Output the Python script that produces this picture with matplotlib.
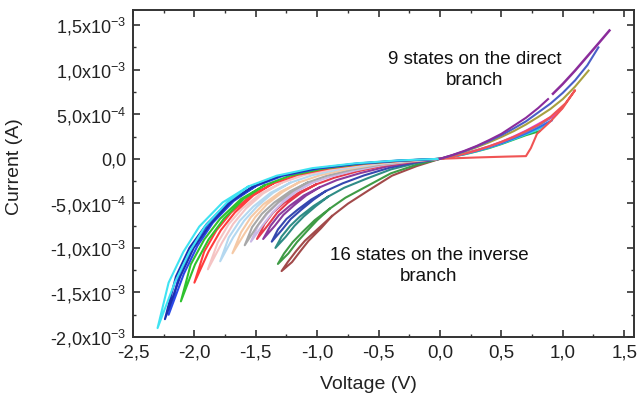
import numpy as np
import matplotlib
matplotlib.use("Agg")
import matplotlib.pyplot as plt

plt.rcParams['font.family'] = ['Liberation Sans', 'DejaVu Sans']
plt.rcParams['mathtext.fontset'] = 'custom'
plt.rcParams['mathtext.rm'] = 'Liberation Sans'
plt.rcParams['mathtext.it'] = 'Liberation Sans'
plt.rcParams['mathtext.bf'] = 'Liberation Sans'

# ---- inverse branch: one loop per state (V in volts, I in mA) ----
inv_colors = ['#3fe3f2', '#1c2fb0', '#2a48e6', '#2ec22e', '#ff3c3c', '#f5c4c4',
              '#b4d8f0', '#f5c9a6', '#a8a8a8', '#c9b9e6', '#e63a4c', '#8a3c9e',
              '#3548b0', '#2f8c86', '#3f9b45', '#a24a4a']
inv_out_v = [
    [0, -0.35, -0.69, -1.04, -1.33, -1.56, -1.77, -1.96, -2.09, -2.21, -2.30],
    [0, -0.34, -0.67, -1.01, -1.30, -1.52, -1.72, -1.90, -2.04, -2.15, -2.24],
    [0, -0.33, -0.66, -0.99, -1.28, -1.50, -1.70, -1.88, -2.01, -2.12, -2.21],
    [0, -0.32, -0.63, -0.95, -1.22, -1.43, -1.62, -1.79, -1.92, -2.03, -2.11],
    [0, -0.30, -0.60, -0.90, -1.16, -1.36, -1.54, -1.70, -1.82, -1.92, -2.00],
    [0, -0.28, -0.57, -0.85, -1.10, -1.29, -1.46, -1.61, -1.72, -1.81, -1.89],
    [0, -0.27, -0.54, -0.81, -1.04, -1.22, -1.38, -1.52, -1.63, -1.72, -1.79],
    [0, -0.25, -0.51, -0.76, -0.98, -1.15, -1.30, -1.44, -1.54, -1.62, -1.69],
    [0, -0.24, -0.48, -0.72, -0.92, -1.08, -1.22, -1.35, -1.45, -1.53, -1.59],
    [0, -0.23, -0.46, -0.69, -0.89, -1.05, -1.19, -1.31, -1.40, -1.48, -1.54],
    [0, -0.22, -0.45, -0.67, -0.86, -1.01, -1.15, -1.27, -1.36, -1.43, -1.49],
    [0, -0.22, -0.43, -0.65, -0.84, -0.98, -1.11, -1.22, -1.31, -1.38, -1.44],
    [0, -0.21, -0.41, -0.62, -0.79, -0.93, -1.05, -1.16, -1.25, -1.32, -1.37],
    [0, -0.20, -0.40, -0.60, -0.78, -0.91, -1.03, -1.14, -1.22, -1.29, -1.34],
    [0, -0.20, -0.40, -0.59, -0.77, -0.90, -1.02, -1.12, -1.20, -1.27, -1.32],
    [0, -0.19, -0.39, -0.58, -0.75, -0.88, -0.99, -1.10, -1.17, -1.24, -1.29],
]
inv_out_i = [
    [0, -0.019, -0.051, -0.105, -0.19, -0.31, -0.49, -0.76, -1.045, -1.39, -1.90],
    [0, -0.020, -0.052, -0.108, -0.191, -0.31, -0.481, -0.733, -0.999, -1.321, -1.80],
    [0, -0.021, -0.054, -0.109, -0.191, -0.306, -0.474, -0.718, -0.977, -1.288, -1.75],
    [0, -0.021, -0.054, -0.110, -0.189, -0.298, -0.451, -0.672, -0.906, -1.186, -1.60],
    [0, -0.022, -0.054, -0.108, -0.181, -0.278, -0.411, -0.602, -0.802, -1.041, -1.39],
    [0, -0.022, -0.056, -0.110, -0.180, -0.269, -0.389, -0.558, -0.732, -0.941, -1.24],
    [0, -0.024, -0.060, -0.115, -0.184, -0.269, -0.382, -0.536, -0.695, -0.883, -1.15],
    [0, -0.025, -0.061, -0.118, -0.186, -0.266, -0.371, -0.512, -0.655, -0.825, -1.06],
    [0, -0.027, -0.064, -0.123, -0.19, -0.267, -0.364, -0.491, -0.617, -0.767, -0.97],
    [0, -0.029, -0.069, -0.131, -0.199, -0.275, -0.369, -0.488, -0.607, -0.746, -0.93],
    [0, -0.032, -0.074, -0.140, -0.212, -0.288, -0.38, -0.494, -0.605, -0.734, -0.90],
    [0, -0.036, -0.086, -0.161, -0.239, -0.32, -0.412, -0.524, -0.629, -0.752, -0.90],
    [0, -0.043, -0.10, -0.187, -0.274, -0.362, -0.459, -0.572, -0.675, -0.794, -0.93],
    [0, -0.051, -0.119, -0.224, -0.325, -0.424, -0.53, -0.648, -0.753, -0.873, -1.00],
    [0, -0.071, -0.163, -0.304, -0.437, -0.562, -0.689, -0.822, -0.936, -1.063, -1.18],
    [0, -0.082, -0.189, -0.353, -0.504, -0.643, -0.781, -0.92, -1.033, -1.159, -1.26],
]
# return sweep, drawn from the tip back until it rejoins the outgoing trace
inv_ret_v = [
    [-2.16, -2.04, -1.915, -1.735, -1.56],
    [-2.115, -2.005, -1.87, -1.70, -1.52],
    [-2.085, -1.975, -1.85, -1.68, -1.50],
    [-1.995, -1.885, -1.76, -1.60, -1.43],
    [-1.885, -1.785, -1.67, -1.52, -1.36],
    [-1.775, -1.685, -1.58, -1.44, -1.29],
    [-1.685, -1.595, -1.49, -1.36, -1.22],
    [-1.585, -1.505, -1.41, -1.28, -1.15],
    [-1.495, -1.415, -1.32, -1.20, -1.08],
    [-1.445, -1.365, -1.28, -1.17, -1.05],
    [-1.395, -1.325, -1.24, -1.13, -1.01],
    [-1.345, -1.275, -1.19, -1.09, -0.98],
    [-1.285, -1.215, -1.13, -1.03, -0.93],
    [-1.255, -1.185, -1.11, -1.01, -0.91],
    [-1.235, -1.165, -1.09, -1.00, -0.90],
    [-1.205, -1.135, -1.07, -0.97, -0.88],
]
inv_ret_i = [
    [-1.39, -1.045, -0.76, -0.49, -0.31],
    [-1.321, -0.999, -0.733, -0.481, -0.31],
    [-1.288, -0.977, -0.718, -0.474, -0.306],
    [-1.186, -0.906, -0.672, -0.451, -0.298],
    [-1.041, -0.802, -0.602, -0.411, -0.278],
    [-0.941, -0.732, -0.558, -0.389, -0.269],
    [-0.883, -0.695, -0.536, -0.382, -0.269],
    [-0.825, -0.655, -0.512, -0.371, -0.266],
    [-0.767, -0.617, -0.491, -0.364, -0.267],
    [-0.746, -0.607, -0.488, -0.369, -0.275],
    [-0.734, -0.605, -0.494, -0.38, -0.288],
    [-0.752, -0.629, -0.524, -0.412, -0.32],
    [-0.794, -0.675, -0.572, -0.459, -0.362],
    [-0.873, -0.753, -0.648, -0.53, -0.424],
    [-1.063, -0.936, -0.822, -0.689, -0.562],
    [-1.159, -1.033, -0.92, -0.781, -0.643],
]

# ---- direct branch: 9 states ----
dir_colors = ['#30b040', '#30d4e6', '#2f6bf0', '#7080c0', '#e040e0',
              '#f05454', '#a8a040', '#4a5ec8', '#8b2c9b']
dir_v = [
    [0, 0.1, 0.2, 0.3, 0.4, 0.5, 0.6, 0.7, 0.81],
    [0, 0.1, 0.2, 0.3, 0.4, 0.5, 0.6, 0.7, 0.8, 0.87],
    [0, 0.1, 0.2, 0.3, 0.4, 0.5, 0.6, 0.7, 0.8, 0.91],
    [0, 0.1, 0.2, 0.3, 0.4, 0.5, 0.6, 0.7, 0.8, 0.95],
    [0, 0.1, 0.2, 0.3, 0.4, 0.5, 0.6, 0.7, 0.8, 0.92, 0.99],
    [0, 0.3, 0.55, 0.70, 0.74, 0.79, 0.90, 1.00, 1.10, 1.02, 0.90, 0.80, 0.70,
     0.60, 0.50, 0.40, 0.30, 0.20, 0.10, 0],
    [0, 0.1, 0.2, 0.3, 0.4, 0.5, 0.6, 0.7, 0.8, 0.9, 1.0, 1.1, 1.21],
    [0, 0.1, 0.2, 0.3, 0.4, 0.5, 0.6, 0.7, 0.8, 0.9, 1.0, 1.1, 1.2, 1.29],
    [0, 0.1, 0.2, 0.3, 0.4, 0.5, 0.6, 0.7, 0.8, 0.88],
]
dir_i = [
    [0, 0.023, 0.05, 0.083, 0.12, 0.165, 0.215, 0.265, 0.31],
    [0, 0.024, 0.052, 0.086, 0.125, 0.17, 0.22, 0.275, 0.33, 0.39],
    [0, 0.025, 0.055, 0.09, 0.13, 0.175, 0.23, 0.285, 0.35, 0.43],
    [0, 0.026, 0.058, 0.095, 0.135, 0.185, 0.24, 0.30, 0.37, 0.50],
    [0, 0.027, 0.06, 0.098, 0.14, 0.19, 0.25, 0.315, 0.39, 0.48, 0.56],
    [0, 0.015, 0.025, 0.03, 0.12, 0.28, 0.42, 0.57, 0.77, 0.62, 0.47, 0.38, 0.31,
     0.245, 0.19, 0.14, 0.095, 0.057, 0.025, 0],
    [0, 0.038, 0.08, 0.13, 0.185, 0.245, 0.31, 0.385, 0.47, 0.56, 0.67, 0.81, 0.99],
    [0, 0.04, 0.085, 0.14, 0.20, 0.265, 0.34, 0.42, 0.52, 0.62, 0.74, 0.88, 1.05, 1.25],
    [0, 0.042, 0.09, 0.145, 0.21, 0.28, 0.37, 0.46, 0.57, 0.67],
]
# upper piece of the purple curve after the small break
purple_top_v = [0.92, 1.00, 1.10, 1.20, 1.30, 1.38]
purple_top_i = [0.73, 0.84, 0.99, 1.15, 1.31, 1.44]

x_ticks = [-2.5, -2.0, -1.5, -1.0, -0.5, 0.0, 0.5, 1.0, 1.5]
x_labels = ['-2,5', '-2,0', '-1,5', '-1,0', '-0,5', '0,0', '0,5', '1,0', '1,5']
y_ticks = [-2.0e-3, -1.5e-3, -1.0e-3, -0.5e-3, 0.0, 0.5e-3, 1.0e-3, 1.5e-3]
y_labels = ['-2,0x10$^{-3}$', '-1,5x10$^{-3}$', '-1,0x10$^{-3}$', '-5,0x10$^{-4}$',
            '0,0', '5,0x10$^{-4}$', '1,0x10$^{-3}$', '1,5x10$^{-3}$']

fig = plt.figure(figsize=(6.39, 4.01), dpi=100)
ax = fig.add_axes([133/639, 64/401, 501/639, 327/401])

lw = 1.5
# inner states first so the outer (cyan) envelope stays on top
loops = list(zip(inv_colors, inv_out_v, inv_out_i, inv_ret_v, inv_ret_i))
for c, vo, io, vr, ir in loops[::-1]:
    v = vo + vr
    i = io + ir
    ax.plot(v, np.array(i) * 1e-3, color=c, lw=lw, solid_joinstyle='round')

for c, v, i in zip(dir_colors, dir_v, dir_i):
    ax.plot(v, np.array(i) * 1e-3, color=c, lw=lw, solid_joinstyle='round')
ax.plot(purple_top_v, np.array(purple_top_i) * 1e-3, color=dir_colors[-1], lw=lw + 0.3)

ax.set_xlim(-2.5, 1.58)
ax.set_ylim(-2.0e-3, 1.67e-3)
ax.set_xticks(x_ticks)
ax.set_xticklabels(x_labels)
ax.set_yticks(y_ticks)
ax.set_yticklabels(y_labels)
ax.set_xticks(np.arange(-2.25, 1.6, 0.5), minor=True)
ax.set_yticks(np.arange(-1.75e-3, 1.6e-3, 0.5e-3), minor=True)

ax.tick_params(which='both', direction='in', top=True, right=True,
               color='#333333', labelcolor='#222222')
ax.tick_params(which='major', length=5, width=1.2)
ax.tick_params(which='minor', length=2.5, width=1.0)
ax.tick_params(axis='x', pad=5.5, labelsize=13.5)
ax.tick_params(axis='y', pad=5, labelsize=13)
for s in ax.spines.values():
    s.set_color('#333333')
    s.set_linewidth(1.4)

ax.set_xlabel('Voltage (V)', fontsize=14, color='#222222')
ax.set_ylabel('Current (A)', fontsize=14, color='#222222')
ax.xaxis.set_label_coords(0.469, -0.118)
ax.yaxis.set_label_coords(-0.22, 0.52)

ax.text(0.28, 1.0e-3, '9 states on the direct\nbranch', ha='center', va='center',
        fontsize=13.5, linespacing=1.3, color='#111111')
ax.text(-0.09, -1.2e-3, '16 states on the inverse\nbranch', ha='center', va='center',
        fontsize=13.5, linespacing=1.3, color='#111111')

fig.savefig('out.png', dpi=100)
